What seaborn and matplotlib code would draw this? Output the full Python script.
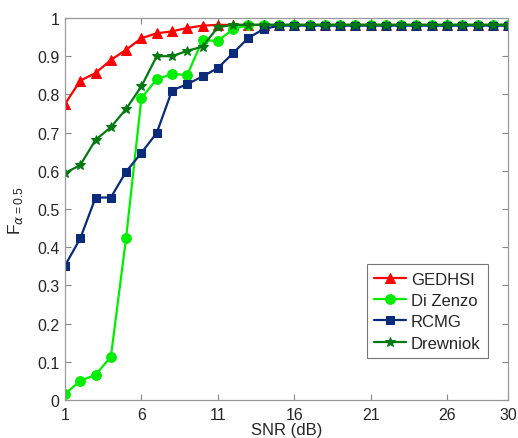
import numpy as np
import pandas as pd
import matplotlib
matplotlib.use("Agg")
import matplotlib.pyplot as plt
import seaborn as sns

snr = list(range(1, 31))
gedhsi = [0.775, 0.836, 0.856, 0.89, 0.917, 0.947, 0.96, 0.965, 0.974, 0.98, 0.982] + [0.982] * 19
di_zenzo = [0.016, 0.05, 0.066, 0.113, 0.425, 0.79, 0.84, 0.853, 0.851, 0.942, 0.94, 0.971, 0.982] + [0.982] * 17
rcmg = [0.352, 0.423, 0.53, 0.53, 0.598, 0.647, 0.699, 0.81, 0.827, 0.847, 0.869, 0.908, 0.948, 0.971, 0.98] + [0.98] * 15
drewniok = [0.594, 0.615, 0.681, 0.714, 0.762, 0.821, 0.90, 0.90, 0.914, 0.925, 0.976, 0.982] + [0.982] * 18

names = ["GEDHSI", "Di Zenzo", "RCMG", "Drewniok"]
series = [gedhsi, di_zenzo, rcmg, drewniok]
colors = ["#ff0000", "#00ee00", "#0a2a7a", "#007a10"]
markers = ["^", "o", "s", "*"]
msizes = [7, 7, 5.5, 7]

xticks = [1, 6, 11, 16, 21, 26, 30]
yticks = [0, 0.1, 0.2, 0.3, 0.4, 0.5, 0.6, 0.7, 0.8, 0.9, 1]
ytick_labels = ["0", "0.1", "0.2", "0.3", "0.4", "0.5", "0.6", "0.7", "0.8", "0.9", "1"]

sns.set_style("white")
plt.rcParams["font.family"] = ["Liberation Sans", "DejaVu Sans"]

fig = plt.figure(figsize=(5.18, 4.39), dpi=100)
ax = fig.add_axes([0.1255, 0.0866, 0.8555, 0.8701])

for name, vals, c, m, ms in zip(names, series, colors, markers, msizes):
    df = pd.DataFrame({"SNR": snr, "F": vals})
    sns.lineplot(data=df, x="SNR", y="F", ax=ax, color=c, marker=m, markersize=ms,
                 markeredgecolor=c, linewidth=1.6, label=name)

ax.set_xlim(1, 30)
ax.set_ylim(0, 1)
ax.set_xticks(xticks)
ax.set_xticklabels([str(t) for t in xticks])
ax.set_yticks(yticks)
ax.set_yticklabels(ytick_labels)
ax.tick_params(direction="in", length=4, labelsize=11.5, top=True, right=True,
               bottom=True, left=True, color="#888888")
ax.tick_params(axis="x", pad=5)
ax.tick_params(axis="y", pad=4)
for s in ax.spines.values():
    s.set_color("#999999")
    s.set_linewidth(0.9)

ax.set_xlabel("SNR (dB)", fontsize=12, labelpad=0)
ax.set_ylabel(r"F$_{\alpha\mathregular{=0.5}}$", fontsize=12.5, labelpad=9)

leg = ax.legend(loc="lower right", bbox_to_anchor=(0.973, 0.088), fontsize=12,
                frameon=True, fancybox=False, edgecolor="#555555",
                handlelength=1.9, borderpad=0.45, labelspacing=0.38, handletextpad=0.3)
leg.get_frame().set_linewidth(0.8)

fig.savefig("out.png", dpi=100)
